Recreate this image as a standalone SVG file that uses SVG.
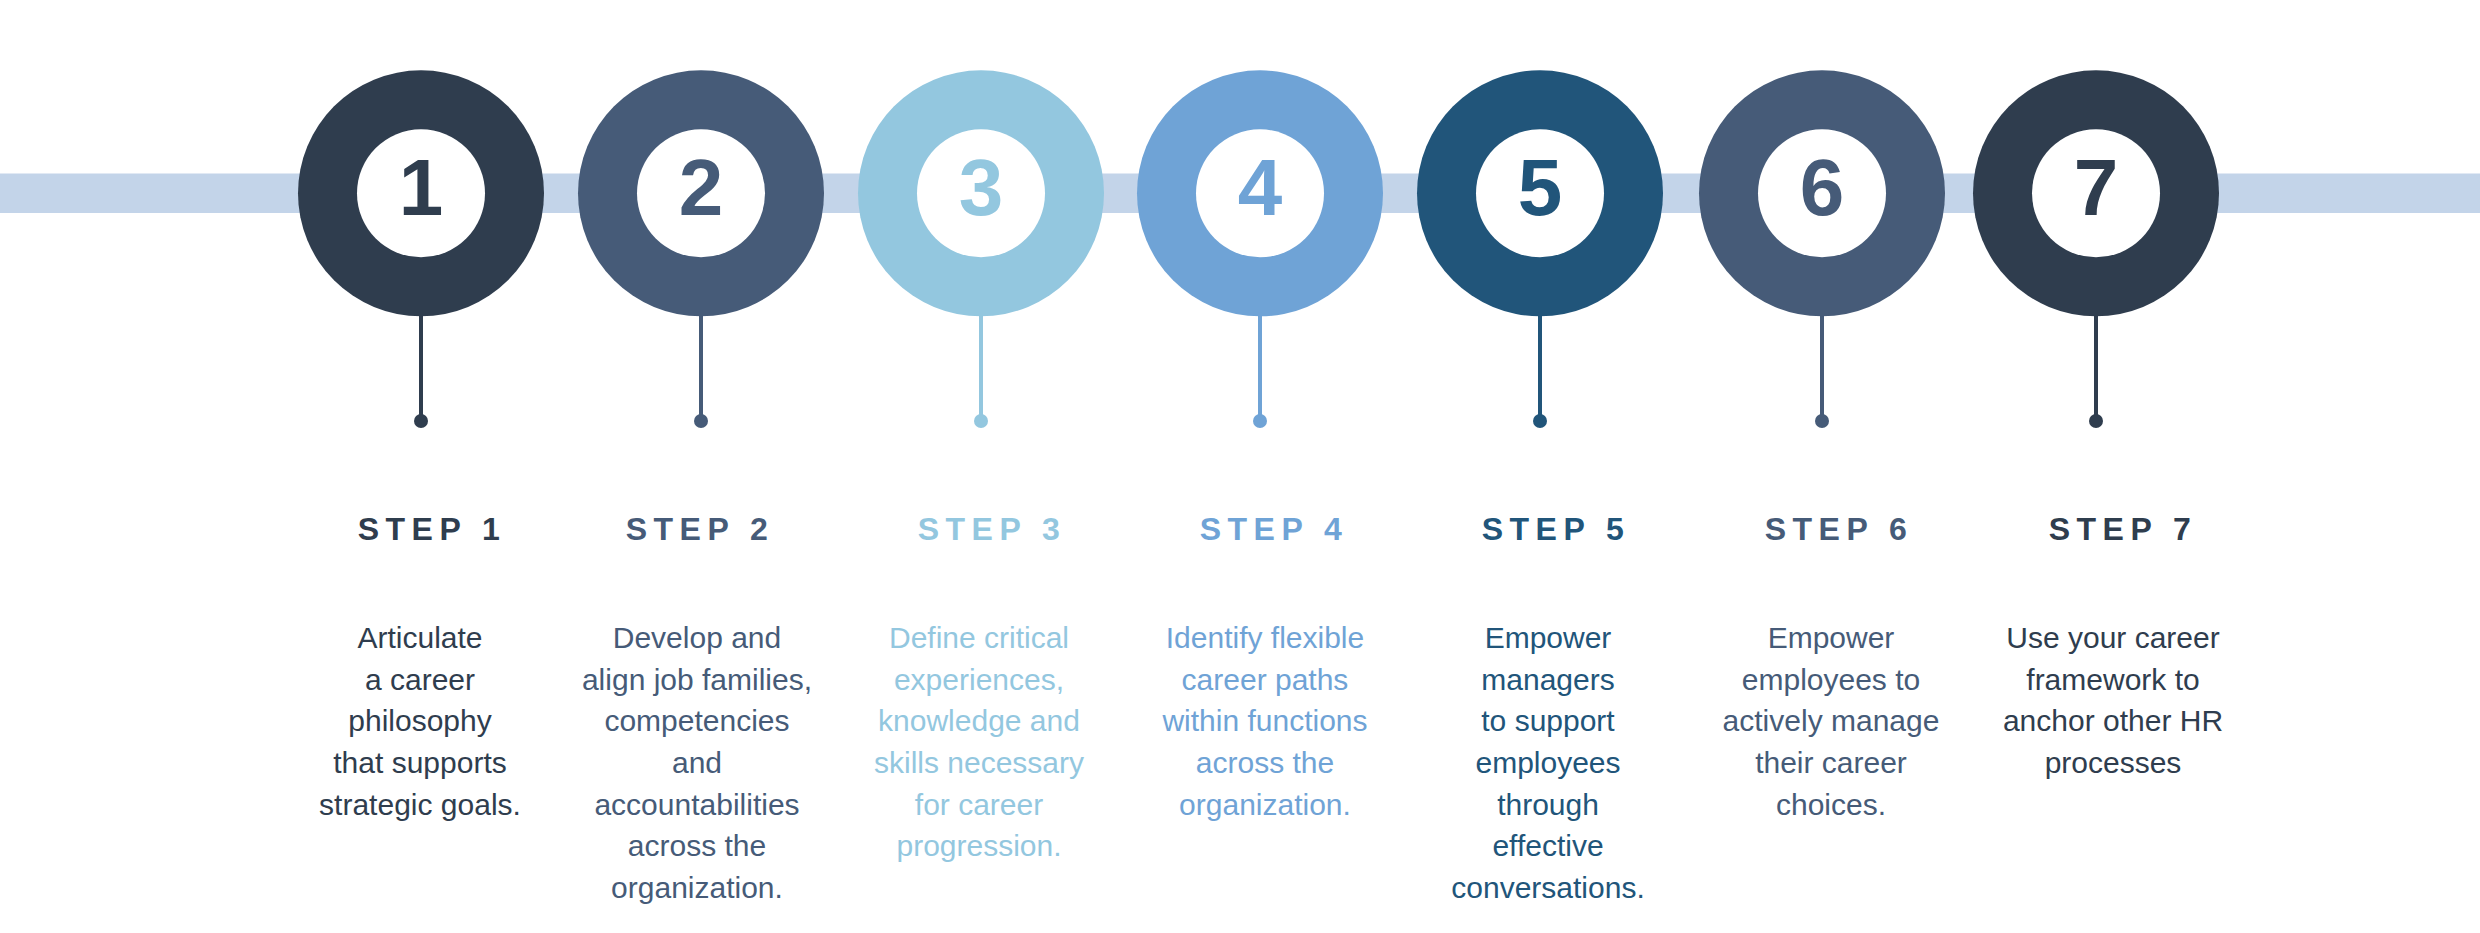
<svg xmlns="http://www.w3.org/2000/svg" width="2480" height="933" viewBox="0 0 2480 933">
<style>
.num{font-family:"Liberation Sans",Arial,sans-serif;font-weight:bold;font-size:80px;text-anchor:middle}
.lbl{font-family:"Liberation Sans",Arial,sans-serif;font-weight:bold;font-size:32px;letter-spacing:6.5px;text-anchor:middle}
.body{font-family:"Liberation Sans",Arial,sans-serif;font-size:30px;text-anchor:middle}
.inner{fill:#ffffff}
.c1{fill:#2f3d4e}.c2{fill:#465b78}.c3{fill:#93c7df}.c4{fill:#6fa3d6}.c5{fill:#21557a}
.s1{stroke:#2f3d4e}.s2{stroke:#465b78}.s3{stroke:#93c7df}.s4{stroke:#6fa3d6}.s5{stroke:#21557a}
.stem{stroke-width:4}
</style>
<rect width="2480" height="933" fill="#ffffff"/>
<rect id="band" x="0" y="173.5" width="2480" height="39.5" fill="#c3d4e9"/>
<g id="connectors">
<line class="stem s1" x1="421" y1="310" x2="421" y2="421"/><circle class="c1" cx="421" cy="421" r="7"/>
<line class="stem s2" x1="701" y1="310" x2="701" y2="421"/><circle class="c2" cx="701" cy="421" r="7"/>
<line class="stem s3" x1="981" y1="310" x2="981" y2="421"/><circle class="c3" cx="981" cy="421" r="7"/>
<line class="stem s4" x1="1260" y1="310" x2="1260" y2="421"/><circle class="c4" cx="1260" cy="421" r="7"/>
<line class="stem s5" x1="1540" y1="310" x2="1540" y2="421"/><circle class="c5" cx="1540" cy="421" r="7"/>
<line class="stem s2" x1="1822" y1="310" x2="1822" y2="421"/><circle class="c2" cx="1822" cy="421" r="7"/>
<line class="stem s1" x1="2096" y1="310" x2="2096" y2="421"/><circle class="c1" cx="2096" cy="421" r="7"/>
</g>
<g id="step1">
<circle class="c1" cx="421" cy="193.3" r="123"/><circle class="inner" cx="421" cy="193.3" r="64"/>
<text class="num c1" x="421" y="215">1</text>
<text class="lbl c1" x="432" y="540">STEP 1</text>
<text class="body c1" x="420"><tspan x="420" y="648">Articulate</tspan><tspan x="420" y="690">a career</tspan><tspan x="420" y="731">philosophy</tspan><tspan x="420" y="773">that supports</tspan><tspan x="420" y="815">strategic goals.</tspan></text>
</g>
<g id="step2">
<circle class="c2" cx="701" cy="193.3" r="123"/><circle class="inner" cx="701" cy="193.3" r="64"/>
<text class="num c2" x="701" y="215">2</text>
<text class="lbl c2" x="700" y="540">STEP 2</text>
<text class="body c2" x="697"><tspan x="697" y="648">Develop and</tspan><tspan x="697" y="690">align job families,</tspan><tspan x="697" y="731">competencies</tspan><tspan x="697" y="773">and</tspan><tspan x="697" y="815">accountabilities</tspan><tspan x="697" y="856">across the</tspan><tspan x="697" y="898">organization.</tspan></text>
</g>
<g id="step3">
<circle class="c3" cx="981" cy="193.3" r="123"/><circle class="inner" cx="981" cy="193.3" r="64"/>
<text class="num c3" x="981" y="215">3</text>
<text class="lbl c3" x="992" y="540">STEP 3</text>
<text class="body c3" x="979"><tspan x="979" y="648">Define critical</tspan><tspan x="979" y="690">experiences,</tspan><tspan x="979" y="731">knowledge and</tspan><tspan x="979" y="773">skills necessary</tspan><tspan x="979" y="815">for career</tspan><tspan x="979" y="856">progression.</tspan></text>
</g>
<g id="step4">
<circle class="c4" cx="1260" cy="193.3" r="123"/><circle class="inner" cx="1260" cy="193.3" r="64"/>
<text class="num c4" x="1260" y="215">4</text>
<text class="lbl c4" x="1274" y="540">STEP 4</text>
<text class="body c4" x="1265"><tspan x="1265" y="648">Identify flexible</tspan><tspan x="1265" y="690">career paths</tspan><tspan x="1265" y="731">within functions</tspan><tspan x="1265" y="773">across the</tspan><tspan x="1265" y="815">organization.</tspan></text>
</g>
<g id="step5">
<circle class="c5" cx="1540" cy="193.3" r="123"/><circle class="inner" cx="1540" cy="193.3" r="64"/>
<text class="num c5" x="1540" y="215">5</text>
<text class="lbl c5" x="1556" y="540">STEP 5</text>
<text class="body c5" x="1548"><tspan x="1548" y="648">Empower</tspan><tspan x="1548" y="690">managers</tspan><tspan x="1548" y="731">to support</tspan><tspan x="1548" y="773">employees</tspan><tspan x="1548" y="815">through</tspan><tspan x="1548" y="856">effective</tspan><tspan x="1548" y="898">conversations.</tspan></text>
</g>
<g id="step6">
<circle class="c2" cx="1822" cy="193.3" r="123"/><circle class="inner" cx="1822" cy="193.3" r="64"/>
<text class="num c2" x="1822" y="215">6</text>
<text class="lbl c2" x="1839" y="540">STEP 6</text>
<text class="body c2" x="1831"><tspan x="1831" y="648">Empower</tspan><tspan x="1831" y="690">employees to</tspan><tspan x="1831" y="731">actively manage</tspan><tspan x="1831" y="773">their career</tspan><tspan x="1831" y="815">choices.</tspan></text>
</g>
<g id="step7">
<circle class="c1" cx="2096" cy="193.3" r="123"/><circle class="inner" cx="2096" cy="193.3" r="64"/>
<text class="num c1" x="2096" y="215">7</text>
<text class="lbl c1" x="2123" y="540">STEP 7</text>
<text class="body c1" x="2113"><tspan x="2113" y="648">Use your career</tspan><tspan x="2113" y="690">framework to</tspan><tspan x="2113" y="731">anchor other HR</tspan><tspan x="2113" y="773">processes</tspan></text>
</g>
</svg>
